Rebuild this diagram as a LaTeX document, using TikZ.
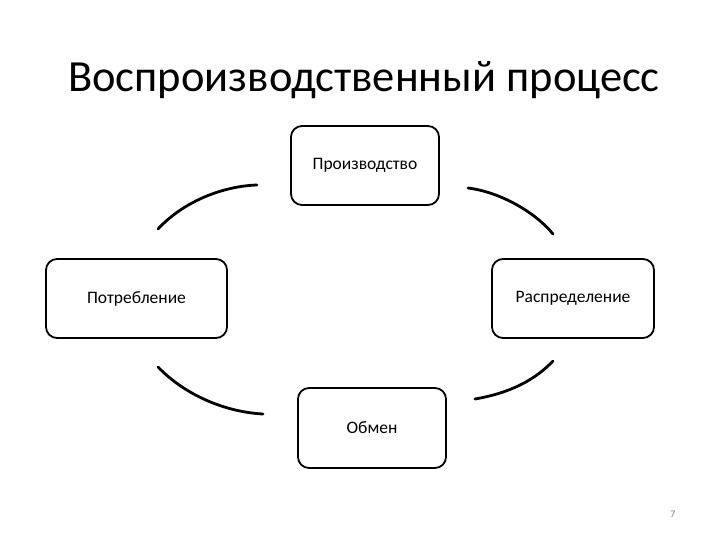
\documentclass[tikz,border=0pt]{standalone}
\usepackage{fontspec}
\setmainfont{Carlito}
\begin{document}
\begin{tikzpicture}[x=1pt,y=-1pt,
  stage/.style={draw=black, line width=1.8pt, rounded corners=11pt, minimum height=79pt, font=\fontsize{17.5}{20}\selectfont, inner sep=0pt},
  arcline/.style={draw=black, line width=2.8pt, line cap=round}]
\useasboundingbox (0,0) rectangle (720,540);
\node (title) at (364,80) {\fontsize{44.5}{50}\selectfont Воспроизводственный процесс};
\node[stage, minimum width=148pt] (prod) at (365,165.5) {Производство};
\node[stage, minimum width=181pt] (potr) at (136.5,298.5) {Потребление};
\node[stage, minimum width=162pt] (rasp) at (573,298.5) {Распределение};
\node[stage, minimum width=148pt, minimum height=80pt] (obm) at (372,428) {Обмен};
\node[text=gray, font=\fontsize{10}{12}\selectfont] (page) at (673,514) {7};
\coordinate (a1) at (158,229); \coordinate (a2) at (257,185);
\coordinate (b1) at (468,188); \coordinate (b2) at (553,234);
\coordinate (c1) at (158,367); \coordinate (c2) at (263,414);
\coordinate (d1) at (475,399); \coordinate (d2) at (553,361);
\draw[arcline] (a1) .. controls (185,200) and (225,186) .. (a2);
\draw[arcline] (b1) .. controls (500,192) and (535,212) .. (b2);
\draw[arcline] (c1) .. controls (185,395) and (225,412) .. (c2);
\draw[arcline] (d1) .. controls (510,393) and (535,380) .. (d2);
\end{tikzpicture}
\end{document}
